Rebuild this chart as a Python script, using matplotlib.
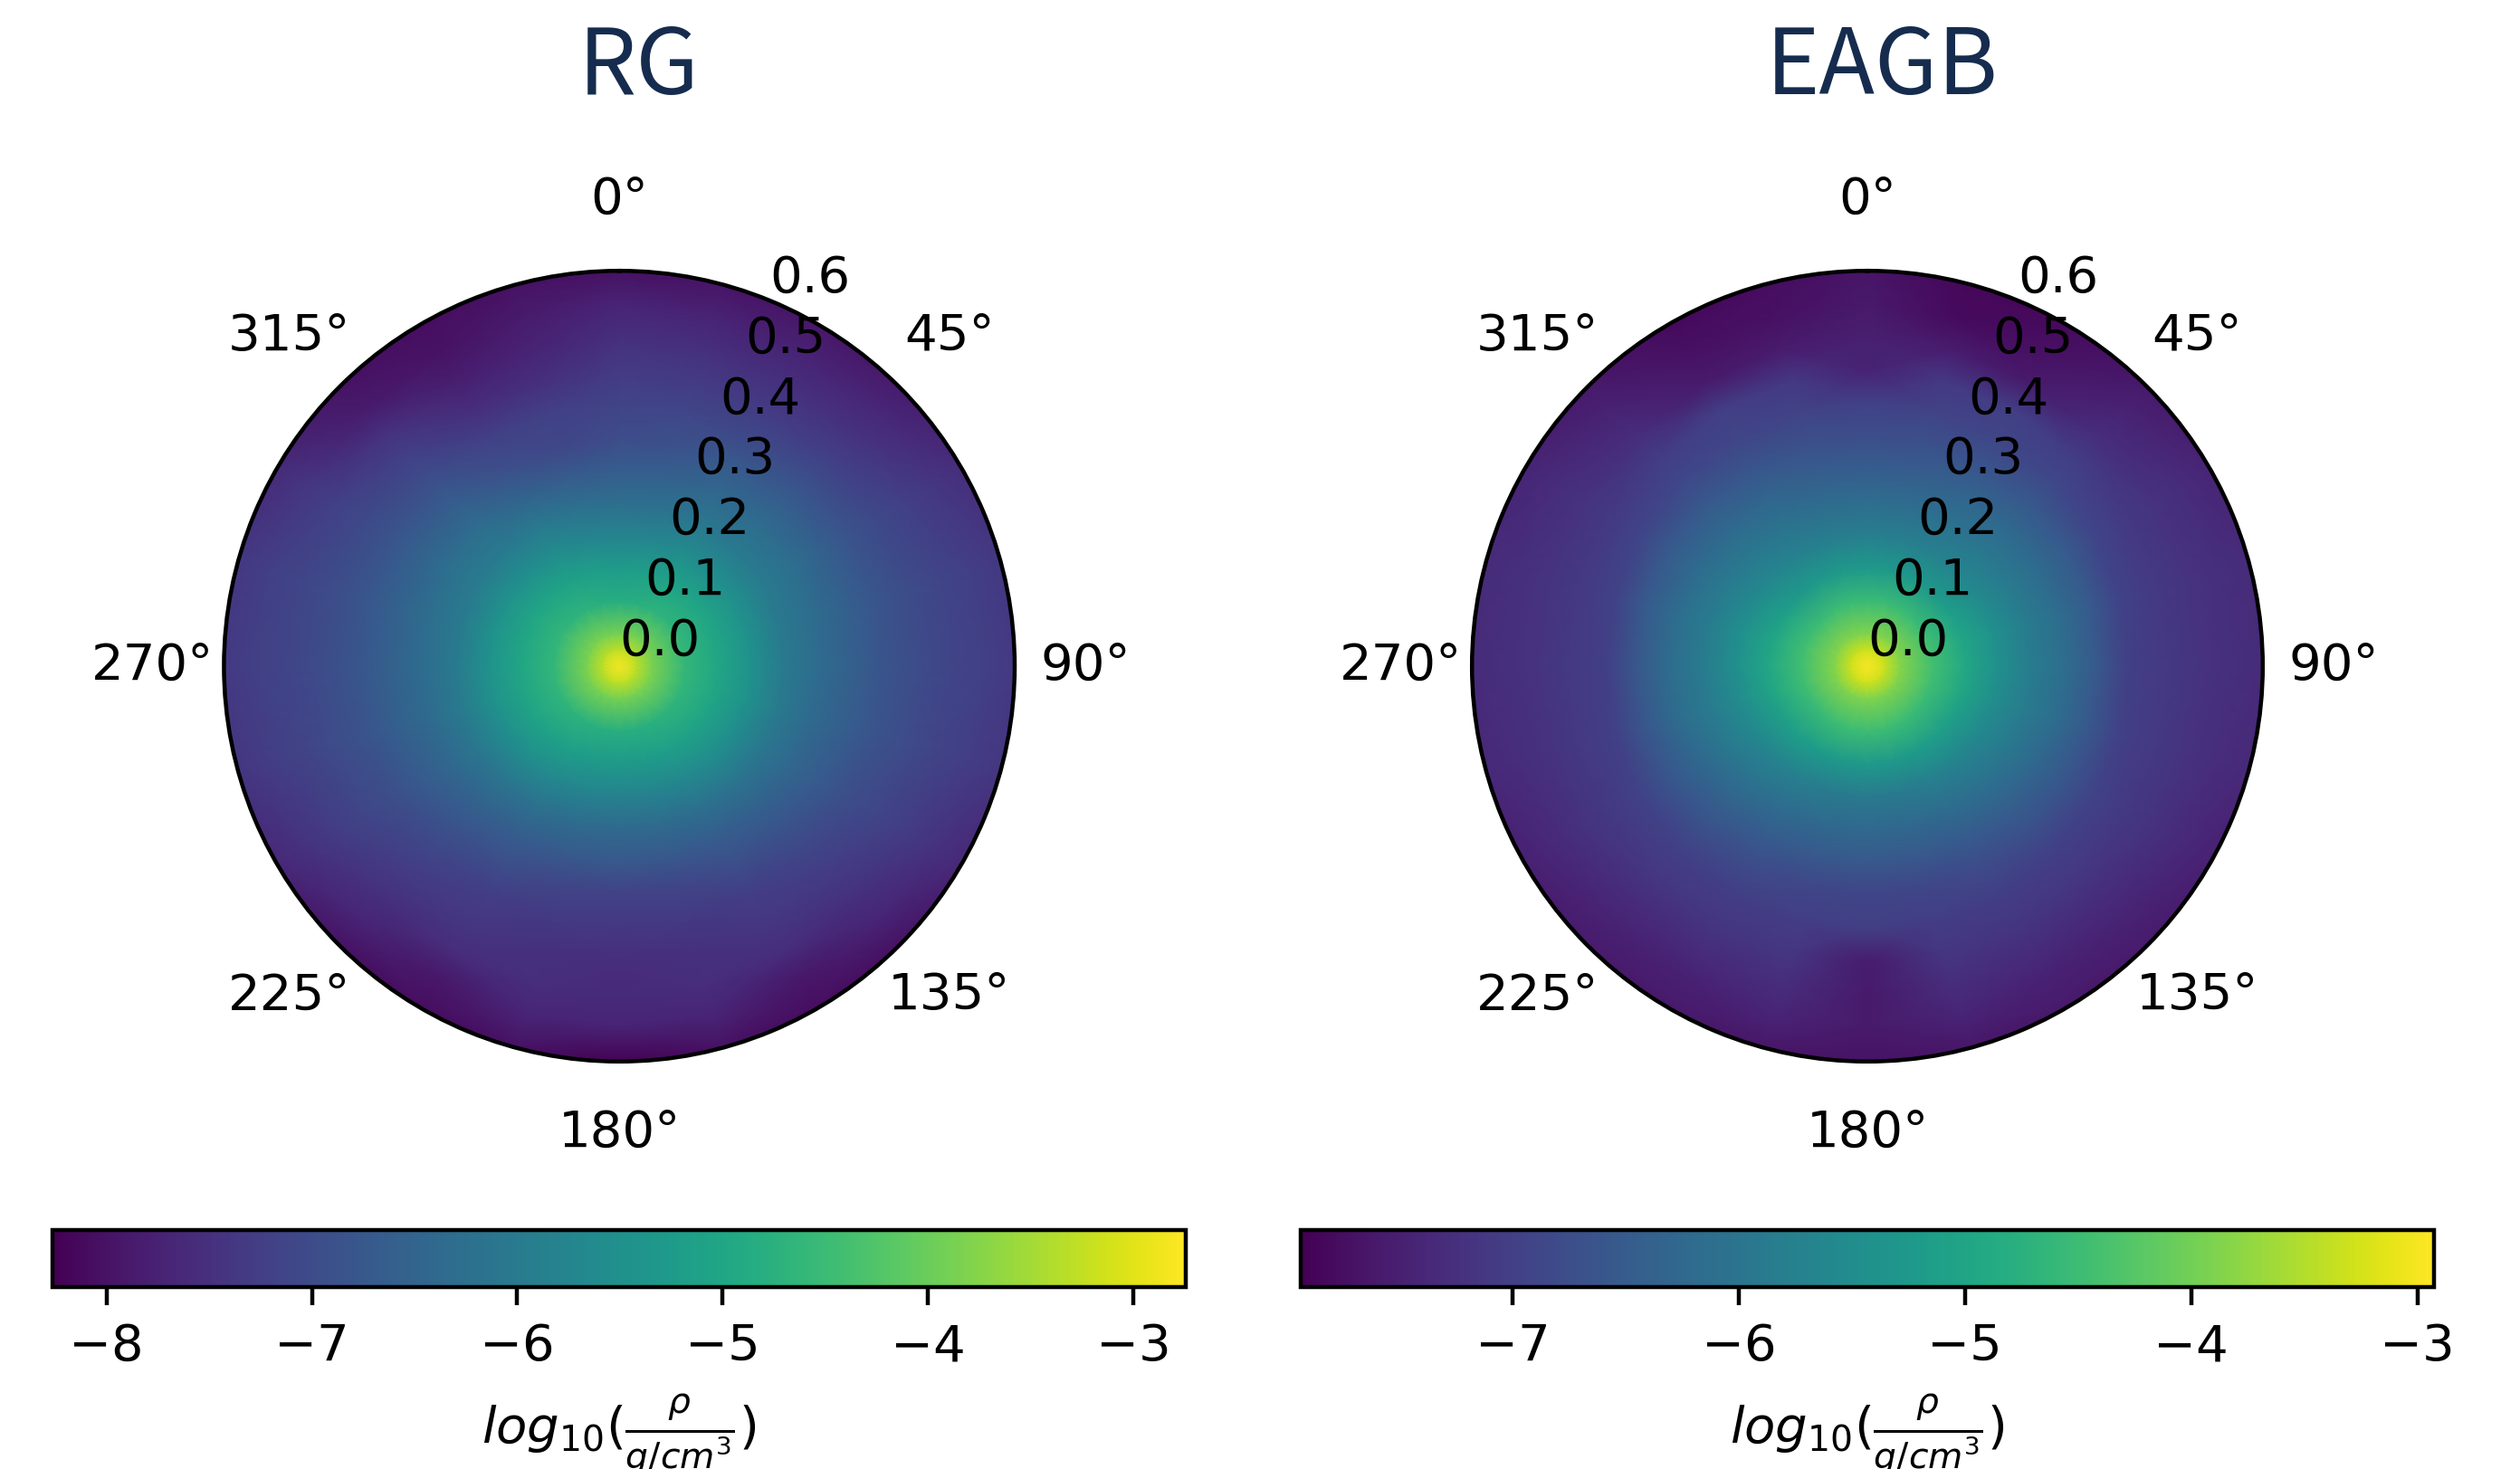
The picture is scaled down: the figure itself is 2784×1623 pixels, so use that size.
import numpy as np
import matplotlib
matplotlib.use("Agg")
import matplotlib.pyplot as plt

W, H, DPI = 2784, 1623, 404

titles = ["RG", "EAGB"]
radius_grid = [0, .025, .05, .1, .15, .2, .25, .3, .35, .4, .45, .5, .55, .6, .64]
theta_grid_deg = list(range(0, 360, 15))
rg_limits = (-8.263, -2.745)
eagb_limits = (-7.937, -2.926)

rg_density = [
 [-2.78]*24,
 [-3.30]*24,
 [-3.90,-3.90,-3.88,-3.85,-3.85,-3.85,-3.85,-3.85,-3.85,-3.88,-3.90,-3.90,-3.90,-3.90,-3.90,-3.88,-3.85,-3.85,-3.85,-3.85,-3.85,-3.85,-3.88,-3.90],
 [-4.85,-4.80,-4.72,-4.68,-4.62,-4.60,-4.60,-4.60,-4.65,-4.70,-4.75,-4.80,-4.80,-4.80,-4.75,-4.70,-4.65,-4.60,-4.60,-4.60,-4.62,-4.68,-4.72,-4.80],
 [-5.25,-5.20,-5.10,-5.05,-5.00,-5.00,-5.00,-5.02,-5.05,-5.10,-5.20,-5.28,-5.30,-5.28,-5.20,-5.10,-5.05,-5.02,-5.00,-5.00,-5.00,-5.05,-5.10,-5.20],
 [-5.80,-5.75,-5.60,-5.55,-5.50,-5.45,-5.45,-5.47,-5.55,-5.60,-5.70,-5.80,-5.85,-5.80,-5.70,-5.60,-5.55,-5.47,-5.45,-5.45,-5.50,-5.55,-5.60,-5.75],
 [-6.30,-6.20,-6.05,-6.00,-5.98,-6.00,-6.00,-6.00,-6.08,-6.15,-6.25,-6.35,-6.40,-6.35,-6.25,-6.15,-6.08,-6.00,-6.00,-6.00,-5.98,-6.00,-6.05,-6.20],
 [-6.65,-6.60,-6.40,-6.30,-6.25,-6.30,-6.32,-6.35,-6.42,-6.55,-6.65,-6.75,-6.75,-6.75,-6.65,-6.55,-6.42,-6.35,-6.32,-6.30,-6.25,-6.30,-6.55,-6.70],
 [-7.00,-6.90,-6.70,-6.62,-6.55,-6.55,-6.58,-6.60,-6.70,-6.85,-6.95,-7.15,-7.20,-7.15,-6.95,-6.85,-6.70,-6.60,-6.58,-6.55,-6.55,-6.62,-6.95,-7.10],
 [-7.15,-7.10,-7.05,-6.92,-6.82,-6.78,-6.80,-6.82,-6.95,-7.10,-7.25,-7.35,-7.40,-7.35,-7.25,-7.10,-6.95,-6.82,-6.80,-6.78,-6.82,-6.92,-7.20,-7.20],
 [-7.30,-7.30,-7.30,-7.22,-7.05,-6.98,-6.98,-7.00,-7.12,-7.30,-7.40,-7.50,-7.55,-7.50,-7.40,-7.30,-7.12,-7.00,-6.98,-6.98,-7.05,-7.18,-7.55,-7.50],
 [-7.50,-7.50,-7.50,-7.45,-7.22,-7.10,-7.10,-7.15,-7.28,-7.50,-7.55,-7.55,-7.60,-7.55,-7.55,-7.50,-7.28,-7.15,-7.10,-7.10,-7.22,-7.45,-7.80,-7.72],
 [-7.70,-7.72,-7.72,-7.65,-7.38,-7.22,-7.20,-7.25,-7.45,-7.70,-7.90,-7.70,-7.72,-7.70,-7.90,-7.70,-7.45,-7.25,-7.20,-7.22,-7.38,-7.85,-8.00,-7.85],
 [-8.00,-7.95,-7.90,-7.85,-7.52,-7.35,-7.32,-7.38,-7.62,-8.00,-8.05,-8.00,-8.20,-8.00,-8.05,-8.00,-7.62,-7.38,-7.32,-7.35,-7.58,-8.00,-8.05,-8.00],
 [-8.10,-8.05,-8.00,-7.95,-7.62,-7.42,-7.38,-7.45,-7.72,-8.10,-8.15,-8.15,-8.26,-8.15,-8.15,-8.10,-7.72,-7.45,-7.38,-7.42,-7.68,-8.05,-8.10,-8.10],
]
eagb_density = [
 [-2.93]*24,
 [-3.30]*24,
 [-3.90,-3.90,-3.88,-3.85,-3.85,-3.85,-3.85,-3.85,-3.85,-3.88,-3.90,-3.90,-3.90,-3.90,-3.90,-3.88,-3.85,-3.85,-3.85,-3.85,-3.85,-3.85,-3.88,-3.90],
 [-4.55,-4.53,-4.53,-4.55,-4.50,-4.45,-4.45,-4.47,-4.53,-4.55,-4.53,-4.50,-4.50,-4.50,-4.53,-4.55,-4.53,-4.47,-4.45,-4.45,-4.50,-4.55,-4.53,-4.53],
 [-5.25,-5.25,-5.25,-5.25,-5.10,-4.98,-4.95,-5.00,-5.10,-5.15,-5.20,-5.25,-5.25,-5.25,-5.20,-5.15,-5.10,-5.00,-4.95,-4.98,-5.10,-5.25,-5.25,-5.25],
 [-5.80,-5.80,-5.75,-5.65,-5.55,-5.45,-5.45,-5.50,-5.60,-5.70,-5.80,-5.90,-5.90,-5.90,-5.80,-5.70,-5.60,-5.50,-5.45,-5.45,-5.55,-5.65,-5.75,-5.80],
 [-6.15,-6.15,-6.05,-5.95,-5.90,-5.85,-5.85,-5.87,-5.95,-6.05,-6.17,-6.25,-6.25,-6.25,-6.17,-6.05,-5.95,-5.87,-5.85,-5.85,-5.90,-5.95,-6.05,-6.15],
 [-6.45,-6.43,-6.33,-6.25,-6.20,-6.15,-6.15,-6.17,-6.30,-6.40,-6.50,-6.55,-6.55,-6.55,-6.50,-6.40,-6.30,-6.17,-6.15,-6.15,-6.20,-6.25,-6.33,-6.43],
 [-6.75,-6.70,-6.62,-6.55,-6.52,-6.52,-6.55,-6.57,-6.62,-6.70,-6.80,-6.88,-6.90,-6.88,-6.80,-6.70,-6.62,-6.57,-6.55,-6.52,-6.52,-6.55,-6.62,-6.70],
 [-6.95,-6.92,-6.88,-6.85,-6.90,-6.95,-7.00,-6.98,-6.95,-6.98,-7.00,-7.02,-7.00,-7.02,-7.00,-6.98,-6.95,-6.98,-7.00,-6.95,-6.90,-6.85,-6.88,-6.92],
 [-7.45,-7.10,-7.00,-7.05,-7.08,-7.08,-7.08,-7.08,-7.10,-7.12,-7.15,-7.15,-7.55,-7.15,-7.15,-7.12,-7.10,-7.08,-7.08,-7.08,-7.08,-7.05,-7.00,-7.10],
 [-7.50,-7.55,-7.60,-7.30,-7.20,-7.18,-7.18,-7.20,-7.22,-7.30,-7.30,-7.28,-7.60,-7.28,-7.30,-7.30,-7.22,-7.20,-7.18,-7.18,-7.20,-7.30,-7.60,-7.55],
 [-7.60,-7.80,-7.72,-7.45,-7.30,-7.25,-7.25,-7.28,-7.35,-7.45,-7.48,-7.42,-7.60,-7.42,-7.48,-7.45,-7.35,-7.28,-7.25,-7.25,-7.30,-7.45,-7.72,-7.72],
 [-7.65,-7.85,-7.80,-7.60,-7.42,-7.32,-7.32,-7.36,-7.48,-7.58,-7.60,-7.62,-7.70,-7.62,-7.60,-7.58,-7.48,-7.36,-7.32,-7.32,-7.42,-7.60,-7.80,-7.78],
 [-7.70,-7.90,-7.85,-7.65,-7.48,-7.36,-7.35,-7.42,-7.55,-7.65,-7.68,-7.70,-7.75,-7.70,-7.68,-7.65,-7.55,-7.42,-7.35,-7.36,-7.48,-7.65,-7.85,-7.82],
]

panel_centers_px = [684.2, 2063.0]
title_centers_px = [706, 2079]
circle_radius_px = 436.8
circle_center_y_px = 736.0
bar_spans_px = [(58, 1310), (1437, 2689)]
bar_y_px = (1359, 1422)
rmax = 0.603
label = r'$log_{10}(\frac{\rho}{g/cm^3})$'

fig = plt.figure(figsize=(W/DPI, H/DPI), dpi=DPI)
thetas = np.deg2rad(theta_grid_deg + [360])
radii = np.array(radius_grid)

for i, (density, limits) in enumerate(zip([rg_density, eagb_density], [rg_limits, eagb_limits])):
    cx = panel_centers_px[i]
    ax = fig.add_axes([(cx-circle_radius_px)/W, 1-(circle_center_y_px+circle_radius_px)/H,
                       2*circle_radius_px/W, 2*circle_radius_px/H], projection='polar')
    z = np.array(density)
    z = np.c_[z, z[:, 0]]
    T, R = np.meshgrid(thetas, radii)
    mesh = ax.pcolormesh(T, R, z, shading='gouraud', cmap='viridis', vmin=limits[0], vmax=limits[1])
    ax.set_theta_zero_location('N')
    ax.set_theta_direction(-1)
    ax.set_rmax(rmax)
    ax.set_rticks([0, .1, .2, .3, .4, .5, .6])
    ax.grid(False)
    x0, x1 = bar_spans_px[i]
    cax = fig.add_axes([x0/W, 1-bar_y_px[1]/H, (x1-x0)/W, (bar_y_px[1]-bar_y_px[0])/H])
    fig.colorbar(mesh, cax=cax, orientation='horizontal', label=label)
    fig.text(title_centers_px[i]/W, 1-104/H, titles[i], ha='center', va='baseline',
             family='Noto Sans CJK SC', fontsize=18.0, color='#162c4f')

fig.savefig('out.png', dpi=DPI)
